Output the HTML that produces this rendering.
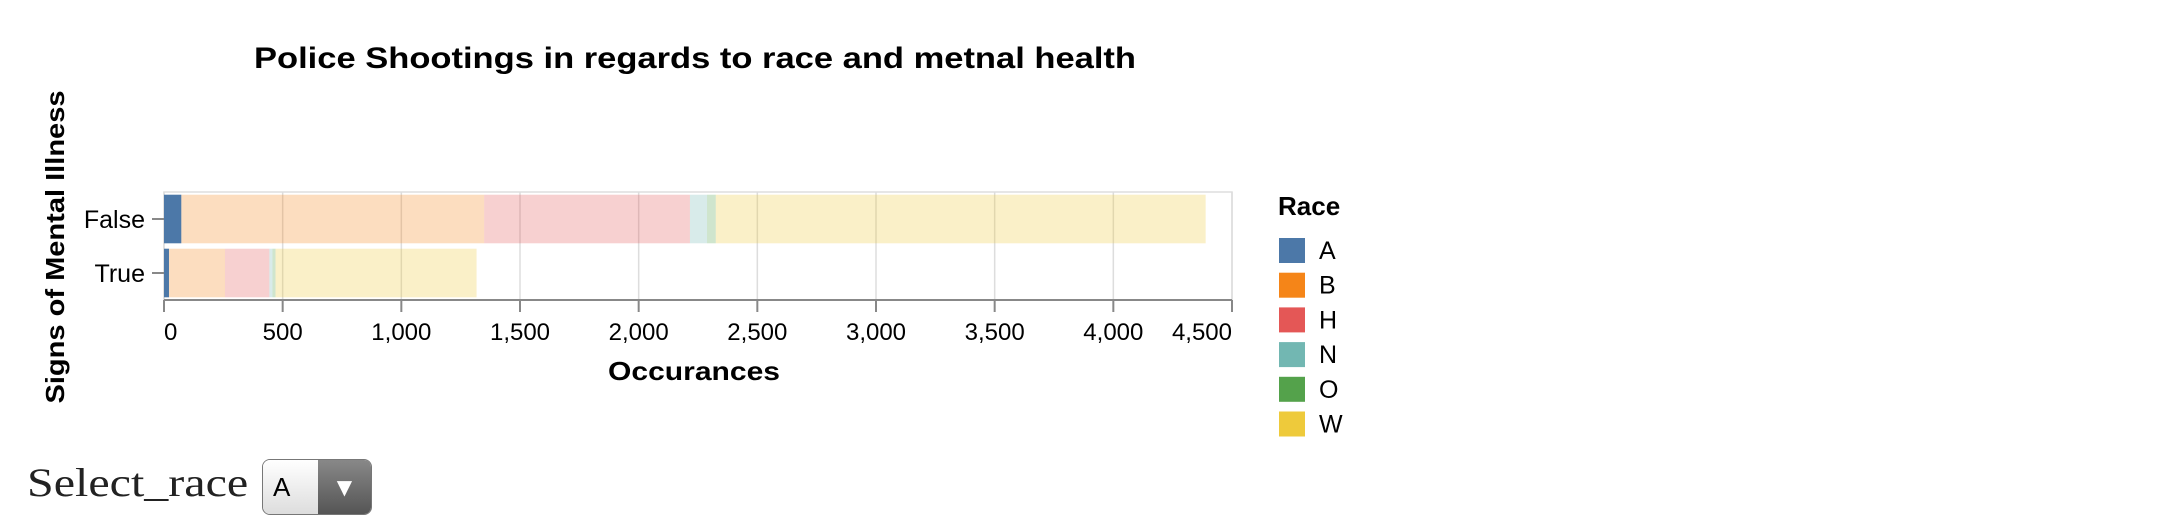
<!DOCTYPE html>
<html><head><meta charset="utf-8"><style>
html,body{margin:0;padding:0;background:#fff;width:2160px;height:505px;overflow:hidden}
svg{position:absolute;left:0;top:0}
#lbl{position:absolute;left:27px;top:457px;font-family:"Liberation Serif",serif;font-size:40px;color:#222;transform-origin:0 0;transform:scaleX(1.2);white-space:nowrap;line-height:52px}
#sel{position:absolute;left:262px;top:459px;width:110px;height:56px;border:1.5px solid #777;border-radius:8px;display:flex;overflow:hidden;box-sizing:border-box}
#sel .v{flex:0 0 55px;background:linear-gradient(#fff,#ddd);font-family:"Liberation Sans",sans-serif;font-size:26px;display:flex;align-items:center;padding-left:10px;box-sizing:border-box;color:#000}
#sel .a{flex:1;background:linear-gradient(#888,#555);color:#fff;font-size:20px;display:flex;align-items:center;justify-content:center;font-family:"DejaVu Sans",sans-serif}
</style></head><body>
<svg id="chart" width="2160" height="505" font-family="Liberation Sans, sans-serif"></svg>
<div id="lbl">Select_race</div>
<div id="sel"><div class="v">A</div><div class="a">▼</div></div>
<script>
const categories = ["False","True"];
const races = ["A","B","H","N","O","W"];
const colors = ["#4c78a8","#f58518","#e45756","#72b7b2","#54a24b","#eeca3b"];
const valuesFalse = [73,1276,867,72,37,2064];
const valuesTrue = [21,236,187,13,13,847];
const seriesValues = [valuesFalse, valuesTrue];
const xTicks = [0,500,1000,1500,2000,2500,3000,3500,4000,4500];
const selectedRace = "A";

const NS="http://www.w3.org/2000/svg";
const svg=document.getElementById('chart');
const X0=164, X1=1232, Y0=192, Y1=300, XMAX=4500;
const xs=v=>X0+(v/XMAX)*(X1-X0);
const step=(Y1-Y0)/categories.length;
const yb=i=>Y0+i*step;
function el(t,a,p){const e=document.createElementNS(NS,t);for(const k in a)e.setAttribute(k,a[k]);(p||svg).appendChild(e);return e;}

let e=el('text',{x:695,y:68,'text-anchor':'middle','font-size':30,'font-weight':'bold',textLength:882,lengthAdjust:'spacingAndGlyphs'});
e.textContent='Police Shootings in regards to race and metnal health';



e=el('rect',{x:X0,y:Y0,width:X1-X0,height:Y1-Y0,fill:'none',stroke:'#ddd','stroke-width':1.5});



xTicks.forEach(t=>{
  const g=el('line',{x1:xs(t),x2:xs(t),y1:Y0,y2:Y1,stroke:'#ddd','stroke-width':1.5});
  
  
});

seriesValues.forEach((vals,ci)=>{
  let acc=0;
  vals.forEach((v,ri)=>{
    const r=el('rect',{x:xs(acc),y:yb(ci)+step*0.05,width:xs(acc+v)-xs(acc),height:step*0.9,fill:colors[ri],'fill-opacity':races[ri]===selectedRace?1:0.28});
    
    
    acc+=v;
  });
});

e=el('line',{x1:X0,x2:X1,y1:Y1,y2:Y1,stroke:'#888','stroke-width':2});


xTicks.forEach((t,i)=>{
  el('line',{x1:xs(t),x2:xs(t),y1:Y1,y2:Y1+12,stroke:'#888','stroke-width':2});
  const anchor=i===0?'start':(i===xTicks.length-1?'end':'middle');
  const l=el('text',{x:xs(t),y:340,'text-anchor':anchor,'font-size':24,fill:'#000'});
  l.textContent=t.toLocaleString('en-US');
  
  
});
e=el('text',{x:694,y:380,'text-anchor':'middle','font-size':26,'font-weight':'bold',textLength:172,lengthAdjust:'spacingAndGlyphs'});
e.textContent='Occurances';



categories.forEach((c,i)=>{
  const cy=yb(i)+step/2;
  el('line',{x1:152,x2:164,y1:cy,y2:cy,stroke:'#888','stroke-width':2});
  const l=el('text',{x:145,y:cy+9,'text-anchor':'end','font-size':25,fill:'#000'});
  l.textContent=c;
  
  
});
e=el('text',{x:0,y:0,'text-anchor':'middle','font-size':26,'font-weight':'bold',textLength:313,lengthAdjust:'spacingAndGlyphs',transform:'translate(64,247) rotate(-90)'});
e.textContent='Signs of Mental Illness';



e=el('text',{x:1278,y:215,'font-size':26,'font-weight':'bold'});
e.textContent='Race';


races.forEach((r,i)=>{
  const y=238+i*34.7;
  const s=el('rect',{x:1279,y:y,width:26,height:25,fill:colors[i]});
  
  
  const t=el('text',{x:1319,y:y+21,'font-size':25});
  t.textContent=r;
  
  
});
</script>
</body></html>
